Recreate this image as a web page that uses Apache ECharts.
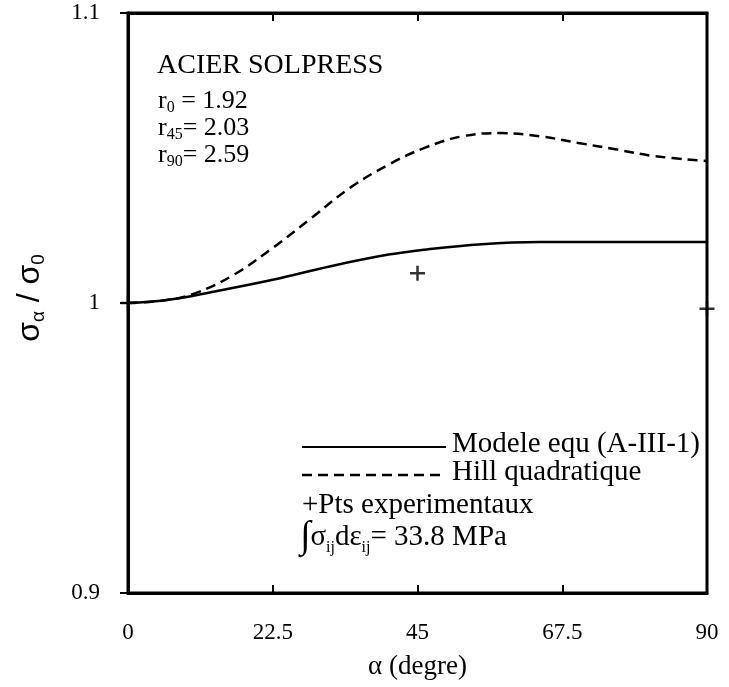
<!DOCTYPE html>
<html><head><meta charset="utf-8">
<script src="https://cdn.jsdelivr.net/npm/echarts@6/dist/echarts.min.js"></script>
<style>html,body{margin:0;padding:0;background:#fff}#c{width:729px;height:687px}</style>
</head><body><div id="c"></div>
<script>
// ---- data ----
const xTicks = [0, 22.5, 45, 67.5, 90];
const yTicks = [0.9, 1, 1.1];
const modelAngles = [0, 6, 13.5, 22.5, 31.5, 40.5, 46, 55, 64, 76, 90];
const modelValues = [1.000, 1.001, 1.004, 1.008, 1.0127, 1.0167, 1.0184, 1.0203, 1.021, 1.021, 1.021];
const hillAngles = [0, 6, 10.5, 16.5, 22.5, 28.5, 34.5, 40.5, 46, 52, 58, 64, 70, 76, 82, 90];
const hillValues = [1.000, 1.001, 1.0034, 1.0098, 1.019, 1.0293, 1.0397, 1.0477, 1.0534, 1.0575, 1.0586, 1.0575, 1.0552, 1.0529, 1.0506, 1.049];
const expAngles = [0, 45, 90];
const expValues = [1.000, 1.0103, 0.998];
const seriesNames = ['Modele equ (A-III-1)', 'Hill quadratique', 'Pts experimentaux'];

const serif = 'Liberation Serif';
const zip = (a, b) => a.map((v, i) => [v, b[i]]);
const plus = 'path://M5,0h2v5h5v2h-5v5h-2v-5h-5v-2h5z';

const chart = echarts.init(document.getElementById('c'), null, {renderer: 'canvas'});
const L = 128, R = 707, T = 13, B = 593;
const tickStyle = {show: true, inside: true, length: 8, lineStyle: {color: '#000', width: 2}};
const axLine = {show: true, lineStyle: {color: '#000', width: 3}};
const rSub = {
  m: {fontFamily: serif, fontSize: 26, lineHeight: 30, fill: '#000'},
  s: {fontFamily: serif, fontSize: 16, lineHeight: 14, verticalAlign: 'bottom', fill: '#000'}
};
chart.setOption({
  animation: false,
  grid: {left: L, right: 729 - R, top: T, bottom: 687 - B, show: true, borderColor: '#000', borderWidth: 3},
  xAxis: [{
    type: 'value', min: 0, max: 90, interval: 22.5,
    axisLine: axLine, axisTick: tickStyle, splitLine: {show: false},
    axisLabel: {color: '#000', fontFamily: serif, fontSize: 23, margin: 28,
      formatter: v => xTicks.includes(v) ? String(v) : ''},
    name: 'α (degre)', nameLocation: 'middle', nameGap: 60,
    nameTextStyle: {color: '#000', fontFamily: serif, fontSize: 27}
  }, {
    type: 'value', min: 0, max: 90, interval: 22.5, position: 'top',
    axisLine: axLine, axisTick: tickStyle, axisLabel: {show: false}, splitLine: {show: false}
  }],
  yAxis: [{
    type: 'value', min: 0.9, max: 1.1, interval: 0.1,
    axisLine: axLine, axisTick: tickStyle, splitLine: {show: false},
    axisLabel: {color: '#000', fontFamily: serif, fontSize: 23, margin: 28,
      formatter: v => { const t = yTicks.find(y => Math.abs(y - v) < 1e-9); return t === undefined ? '' : String(t); }}
  }, {
    type: 'value', min: 0.9, max: 1.1, interval: 0.1, position: 'right',
    axisLine: axLine, axisTick: tickStyle, axisLabel: {show: false}, splitLine: {show: false}
  }],
  series: [{
    name: seriesNames[0], type: 'line', smooth: 0.4, showSymbol: false,
    data: zip(modelAngles, modelValues),
    lineStyle: {color: '#000', width: 2.5}
  }, {
    name: seriesNames[1], type: 'line', smooth: 0.4, showSymbol: false,
    data: zip(hillAngles, hillValues),
    lineStyle: {color: '#000', width: 2.5, type: [10, 6]}
  }, {
    name: seriesNames[2], type: 'scatter', symbol: plus, symbolSize: 15, clip: false,
    data: zip(expAngles, expValues), itemStyle: {color: '#000'}, z: 5
  }],
  graphic: [
    // y axis title
    {type: 'text', x: 30, y: 298, rotation: Math.PI / 2,
      style: {text: '{m|σ}{s|α}{m| / σ}{s|0}', align: 'center', verticalAlign: 'middle',
        rich: {m: {fontFamily: 'Liberation Sans', fontSize: 32, lineHeight: 36, fill: '#000'},
               s: {fontFamily: 'Liberation Sans', fontSize: 19, lineHeight: 18, verticalAlign: 'bottom', fill: '#000'}}}},
    // annotation
    {type: 'text', left: 157, top: 52, style: {text: 'ACIER SOLPRESS', fontFamily: serif, fontSize: 28, fill: '#000'}},
    {type: 'text', left: 158, top: 88, style: {text: '{m|r}{s|0}{m| = 1.92}', rich: rSub}},
    {type: 'text', left: 158, top: 115, style: {text: '{m|r}{s|45}{m|= 2.03}', rich: rSub}},
    {type: 'text', left: 158, top: 142, style: {text: '{m|r}{s|90}{m|= 2.59}', rich: rSub}},
    // legend
    {type: 'line', shape: {x1: 302, y1: 447, x2: 446, y2: 447}, style: {stroke: '#000', lineWidth: 2}},
    {type: 'text', left: 452, top: 430, style: {text: seriesNames[0], fontFamily: serif, fontSize: 29, fill: '#000'}},
    {type: 'line', shape: {x1: 302, y1: 475, x2: 446, y2: 475}, style: {stroke: '#000', lineWidth: 2.5, lineDash: [10, 6]}},
    {type: 'text', left: 452, top: 458, style: {text: seriesNames[1], fontFamily: serif, fontSize: 29, fill: '#000'}},
    {type: 'text', left: 302, top: 491, style: {text: '+' + seriesNames[2], fontFamily: serif, fontSize: 29, fill: '#000'}},
    {type: 'text', left: 300, top: 518, style: {text: '{i|∫}{m|σ}{s|ij}{m|dε}{s|ij}{m|= 33.8 MPa}', rich: {
      i: {fontFamily: serif, fontSize: 38, lineHeight: 38, fill: '#000'},
      m: {fontFamily: serif, fontSize: 29, lineHeight: 32, fill: '#000'},
      s: {fontFamily: serif, fontSize: 16, lineHeight: 14, verticalAlign: 'bottom', fill: '#000'}}}}
  ]
});
</script></body></html>
